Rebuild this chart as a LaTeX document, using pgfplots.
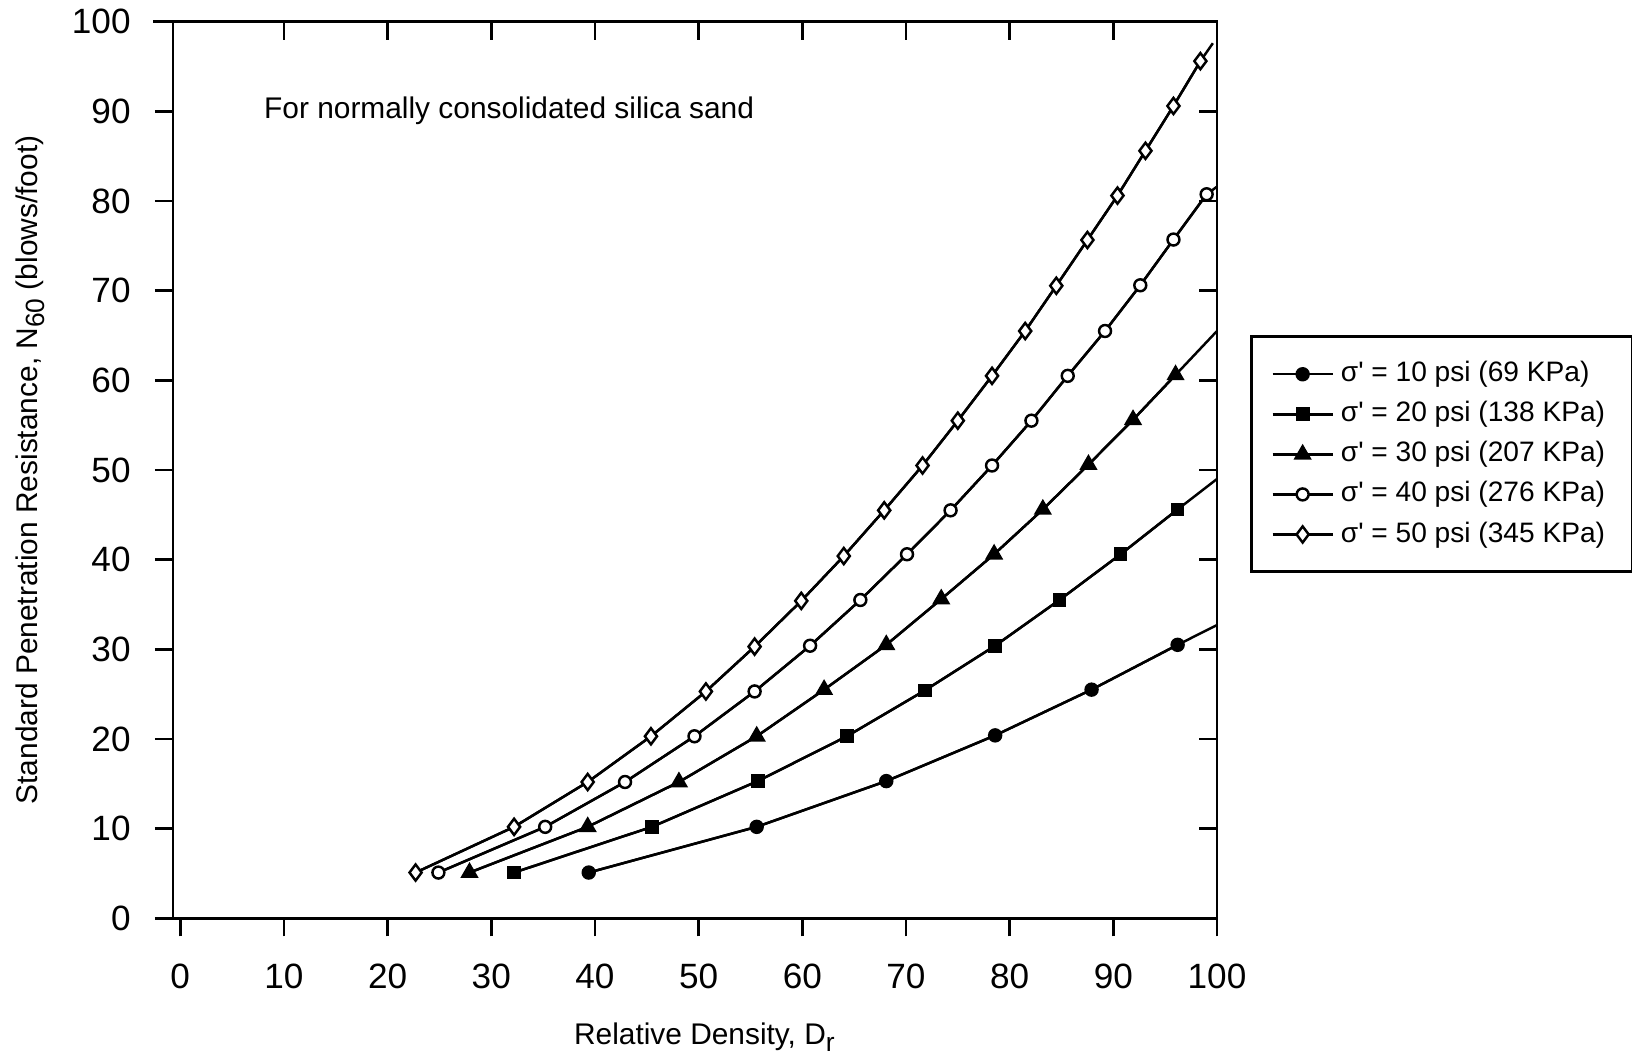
\documentclass[border=0pt]{standalone}
\usepackage{fontspec}
\setmainfont{Liberation Sans}
\usepackage{pgfplots}
\pgfplotsset{compat=1.18}

\newcommand{\lowsub}[1]{\raisebox{-0.45ex}{\fontsize{7.5}{8}\selectfont #1}}

\pgfplotsset{
  frame/.style={
    at={(0,0)}, anchor=south west,
    scale only axis, width=104.4mm, height=89.66mm,
    xmin=-0.7, xmax=100, ymin=0, ymax=100,
    major tick length=1.8mm,
    axis line style={line width=0.8pt},
    every tick/.style={black, line width=0.8pt},
  },
}

\begin{document}
\begin{tikzpicture}[x=1mm,y=1mm]
\useasboundingbox (-17.3,-13.97) rectangle (145.9,91.83);

% top and right ticks point inwards
\begin{axis}[frame,
  xtick={10,20,...,90}, ytick={10,20,...,90},
  tick pos=right, tick align=inside,
  xticklabels={}, yticklabels={},
]
\end{axis}

\begin{axis}[frame,
  xtick={0,10,...,100}, ytick={0,10,...,100},
  tick pos=left, tick align=outside,
  /pgf/number format/assume math mode=true,
  ticklabel style={font=\fontsize{10}{12}\selectfont},
  xticklabel style={yshift=-1.5mm},
  yticklabel style={xshift=-1.2mm},
  xlabel={Relative Density, D\lowsub{r}},
  ylabel={Standard Penetration Resistance, N\lowsub{60} (blows/foot)},
  label style={font=\fontsize{8.5}{10}\selectfont},
  xlabel style={at={(axis description cs:0.509,-0.133)}, anchor=center},
  ylabel style={at={(axis description cs:-0.137,0.5)}, anchor=center},
  legend style={at={(axis description cs:1.0316,0.650)}, anchor=north west,
    font=\fontsize{8}{9}\selectfont, draw=black, line width=0.8pt,
    inner xsep=2mm, inner ysep=1.75mm, row sep=0.1pt},
  legend cell align=left,
  every axis plot/.append style={black, line width=0.7pt},
  clip=false,
]
\draw[line width=0.8pt] (axis cs:-2.6,100) -- (axis cs:-0.7,100);
\draw[line width=0.8pt] (axis cs:-1.9,0) -- (axis cs:-0.7,0);

% 10 psi
\addplot[mark=none, forget plot] coordinates {
(39.4,5.1) (55.6,10.2) (68.1,15.3) (78.6,20.4) (87.9,25.5) (96.2,30.5) (100,32.7)};
\addplot[mark=*, mark size=1.7pt, mark options={fill=black}] coordinates {
(39.4,5.1) (55.6,10.2) (68.1,15.3) (78.6,20.4) (87.9,25.5) (96.2,30.5)};
\addlegendentry{σ\textquotesingle{} = 10 psi (69 KPa)}

% 20 psi
\addplot[mark=none, forget plot] coordinates {
(32.2,5.1) (45.5,10.2) (55.7,15.3) (64.3,20.3) (71.8,25.4) (78.6,30.4) (84.8,35.5)
(90.7,40.6) (96.2,45.6) (100,49.0)};
\addplot[mark=square*, mark size=1.6pt, mark options={fill=black}] coordinates {
(32.2,5.1) (45.5,10.2) (55.7,15.3) (64.3,20.3) (71.8,25.4) (78.6,30.4) (84.8,35.5)
(90.7,40.6) (96.2,45.6)};
\addlegendentry{σ\textquotesingle{} = 20 psi (138 KPa)}

% 30 psi
\addplot[mark=none, forget plot] coordinates {
(27.9,5.1) (39.3,10.2) (48.1,15.2) (55.6,20.3) (62.1,25.5) (68.1,30.5) (73.4,35.6)
(78.5,40.6) (83.2,45.6) (87.6,50.6) (91.9,55.6) (96.0,60.6) (100,65.5)};
\addplot[mark=triangle*, mark size=2.3pt, mark options={fill=black}] coordinates {
(27.9,5.1) (39.3,10.2) (48.1,15.2) (55.6,20.3) (62.1,25.5) (68.1,30.5) (73.4,35.6)
(78.5,40.6) (83.2,45.6) (87.6,50.6) (91.9,55.6) (96.0,60.6)};
\addlegendentry{σ\textquotesingle{} = 30 psi (207 KPa)}

% 40 psi
\addplot[mark=none, forget plot] coordinates {
(24.9,5.1) (35.2,10.2) (42.9,15.2) (49.6,20.3) (55.4,25.3) (60.75,30.4) (65.6,35.5)
(70.1,40.6) (74.3,45.5) (78.3,50.5) (82.1,55.5) (85.6,60.5) (89.2,65.5) (92.6,70.6)
(95.8,75.7) (99.0,80.75) (100,81.6)};
\addplot[mark=*, mark size=1.7pt, mark options={fill=white}] coordinates {
(24.9,5.1) (35.2,10.2) (42.9,15.2) (49.6,20.3) (55.4,25.3) (60.75,30.4) (65.6,35.5)
(70.1,40.6) (74.3,45.5) (78.3,50.5) (82.1,55.5) (85.6,60.5) (89.2,65.5) (92.6,70.6)
(95.8,75.7) (99.0,80.75)};
\addlegendentry{σ\textquotesingle{} = 40 psi (276 KPa)}

% 50 psi
\addplot[mark=none, forget plot] coordinates {
(22.7,5.1) (32.2,10.2) (39.3,15.2) (45.4,20.3) (50.7,25.3) (55.4,30.3) (59.9,35.4)
(64.0,40.4) (67.9,45.5) (71.6,50.5) (75.0,55.5) (78.3,60.5) (81.5,65.5) (84.5,70.55)
(87.5,75.65) (90.4,80.6) (93.1,85.6) (95.8,90.6) (98.4,95.6) (99.6,97.6)};
\addplot[mark=diamond*, mark size=2.3pt, mark options={fill=white}] coordinates {
(22.7,5.1) (32.2,10.2) (39.3,15.2) (45.4,20.3) (50.7,25.3) (55.4,30.3) (59.9,35.4)
(64.0,40.4) (67.9,45.5) (71.6,50.5) (75.0,55.5) (78.3,60.5) (81.5,65.5) (84.5,70.55)
(87.5,75.65) (90.4,80.6) (93.1,85.6) (95.8,90.6) (98.4,95.6)};
\addlegendentry{σ\textquotesingle{} = 50 psi (345 KPa)}

\node[anchor=west, font=\fontsize{8.5}{10}\selectfont] at (axis cs:6.9,90.1)
  {For normally consolidated silica sand};
\end{axis}
\end{tikzpicture}
\end{document}
